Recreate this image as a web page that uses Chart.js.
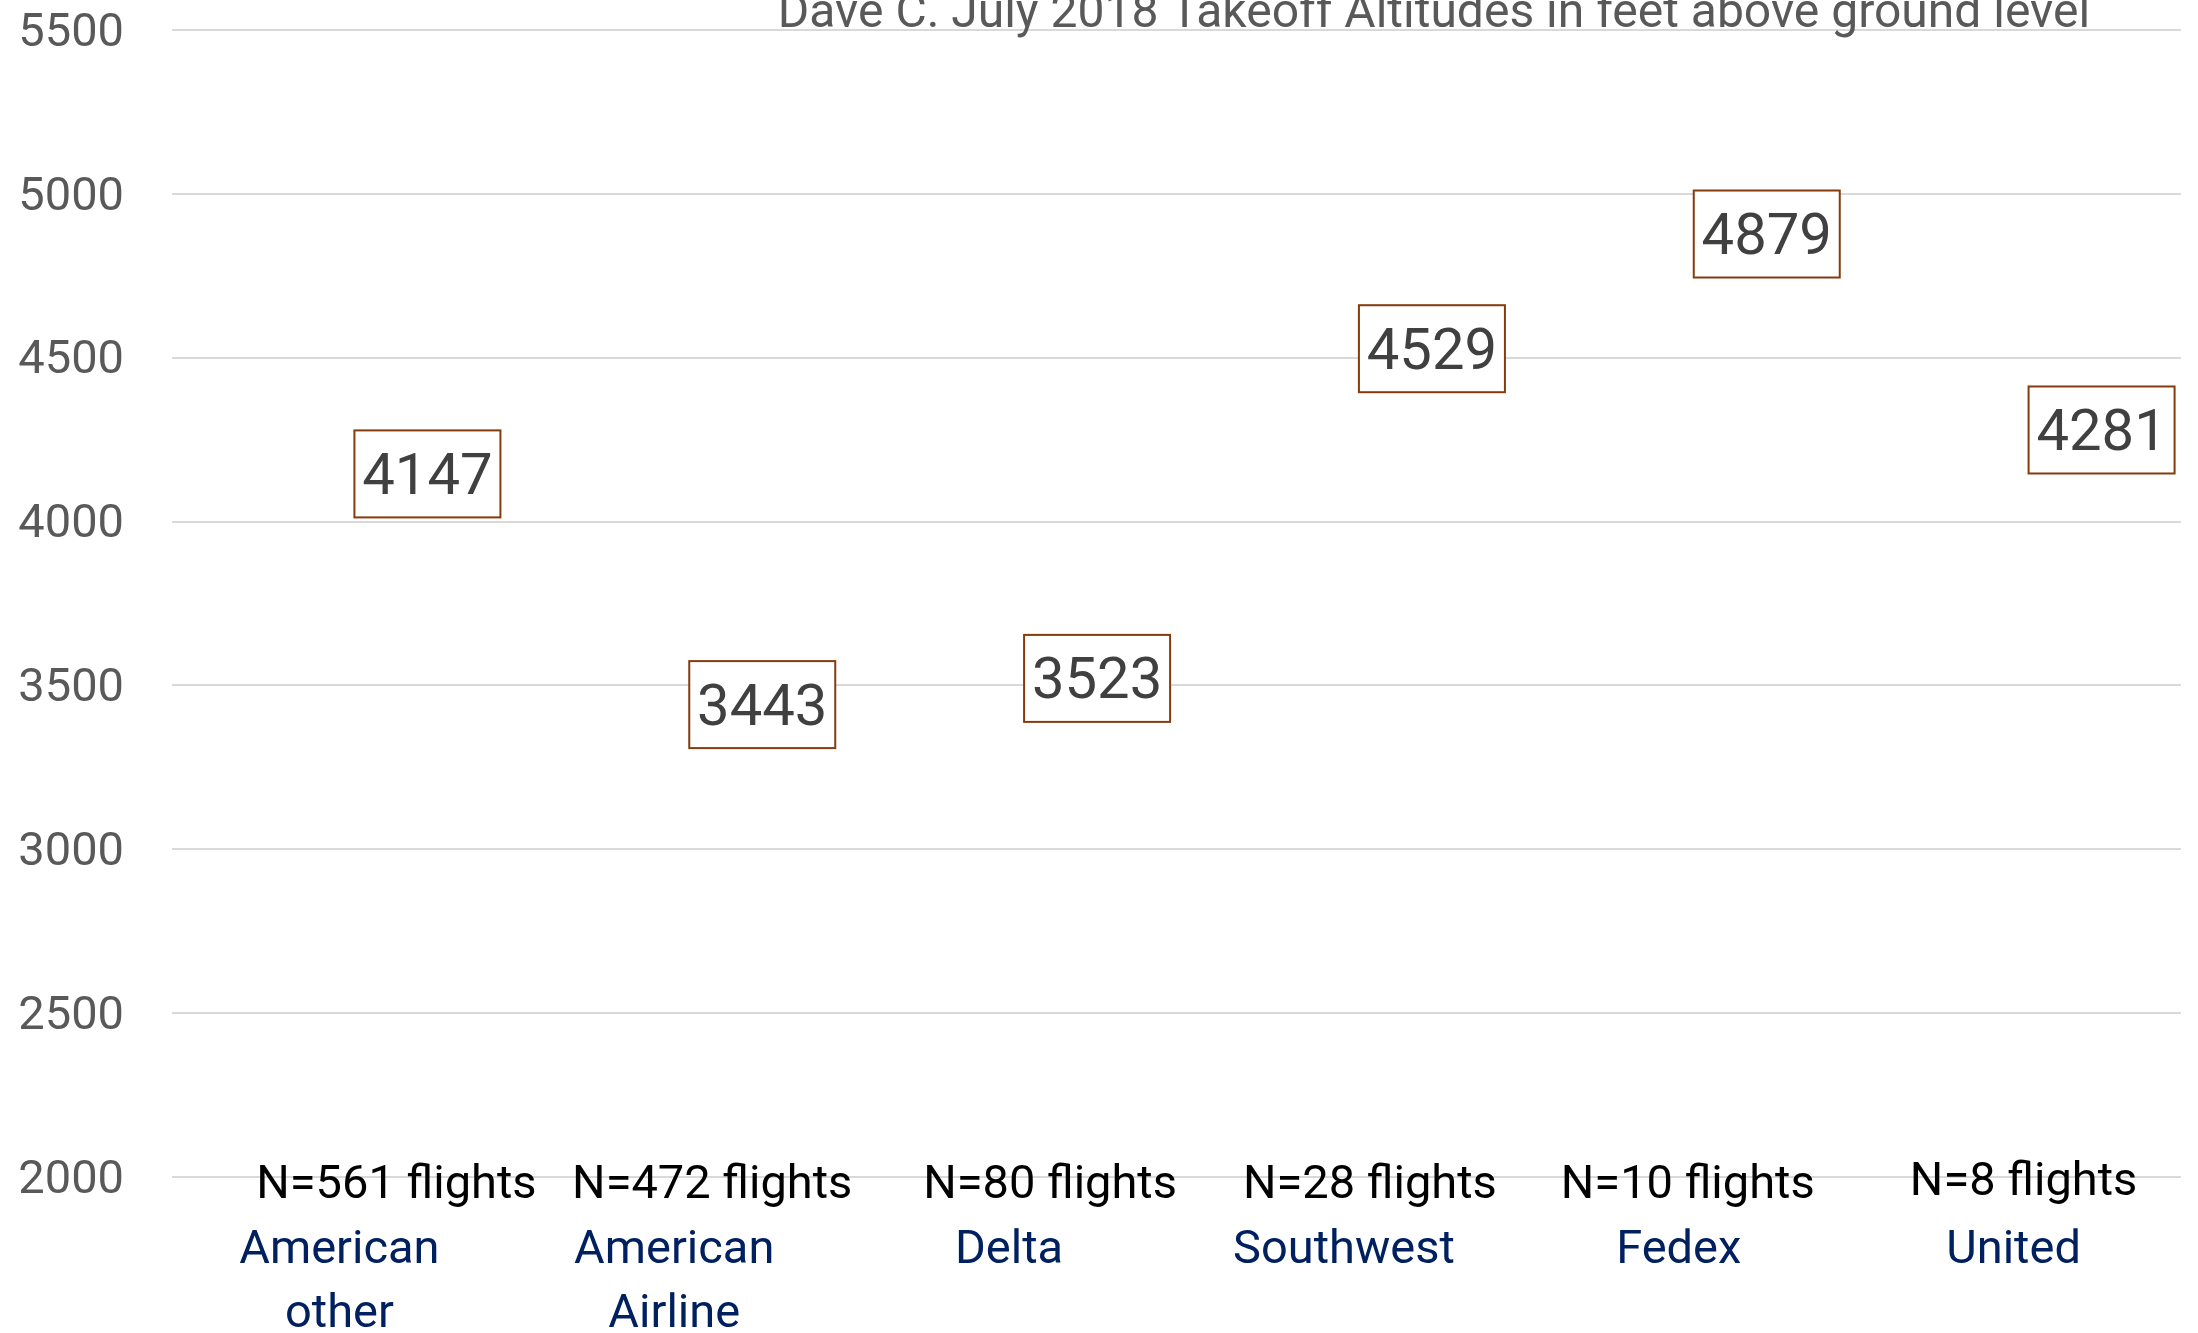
<!DOCTYPE html>
<html>
<head>
<meta charset="utf-8">
<style>
  body { margin: 0; background: #fff; }
  canvas { display: block; }
</style>
<script src="https://cdn.jsdelivr.net/npm/chart.js@4/dist/chart.umd.min.js"></script>
</head>
<body>
<canvas id="graph1" width="2198" height="1333"></canvas>
<script>
var airlines = [['American', 'other'], ['American', 'Airline'], 'Delta', 'Southwest', 'Fedex', 'United'];
var altitudes = [4147, 3443, 3523, 4529, 4879, 4281];
var flightCounts = ['N=561 flights', 'N=472 flights', 'N=80 flights', 'N=28 flights', 'N=10 flights', 'N=8 flights'];
var yTicks = [2000, 2500, 3000, 3500, 4000, 4500, 5000, 5500];

// nudges of the N= text boxes from the category centre (they were hand placed)
var countNudge = [[57, 0], [38, 0], [41, 0], [26, 0], [9, 0], [10, -3]];

var FONT = 'Roboto, "Open Sans", sans-serif';

var labelPlugin = {
  id: 'labels',
  afterDatasetsDraw: function (chart) {
    var ctx = chart.ctx;
    var meta = chart.getDatasetMeta(0);
    var xs = chart.scales.x;
    ctx.save();

    // value boxes, sitting to the right of each category centre
    ctx.font = '58px ' + FONT;
    ctx.textAlign = 'center';
    ctx.textBaseline = 'middle';
    meta.data.forEach(function (pt, i) {
      var cx = pt.x + 88;
      var cy = pt.y;
      ctx.fillStyle = '#ffffff';
      ctx.fillRect(cx - 73, cy - 43, 146, 87);
      ctx.strokeStyle = '#843C0C';
      ctx.lineWidth = 2;
      ctx.strokeRect(cx - 73, cy - 43, 146, 87);
      ctx.fillStyle = '#404040';
      ctx.fillText(String(altitudes[i]), cx, cy + 6);
    });

    // flight counts
    ctx.font = '47px ' + FONT;
    ctx.fillStyle = '#000000';
    ctx.textBaseline = 'alphabetic';
    flightCounts.forEach(function (t, i) {
      var x = xs.getPixelForValue(i) + countNudge[i][0];
      ctx.fillText(t, x, 1198 + countNudge[i][1]);
    });

    // title, partly cut by the top edge like the original
    ctx.font = '48px ' + FONT;
    ctx.fillStyle = '#595959';
    ctx.fillText('Dave C. July 2018 Takeoff Altitudes in feet above ground level', 1434, 27);
    ctx.restore();
  }
};

function makeChart() {
  var ctx = document.getElementById('graph1').getContext('2d');
  new Chart(ctx, {
    type: 'line',
    data: {
      labels: airlines,
      datasets: [{
        data: altitudes,
        showLine: false,
        pointRadius: 0,
        pointHoverRadius: 0
      }]
    },
    options: {
      responsive: false,
      animation: false,
      devicePixelRatio: 1,
      layout: { padding: { top: 30, right: 17, left: 0, bottom: 0 } },
      plugins: {
        legend: { display: false },
        tooltip: { enabled: false }
      },
      scales: {
        x: {
          offset: true,
          grid: { display: false },
          border: { display: false },
          ticks: {
            color: '#002060',
            font: { family: FONT, size: 47, lineHeight: 1.37 },
            padding: 34,
            maxRotation: 0,
            autoSkip: false
          },
          afterFit: function (s) {
            s.height = 156;
            s.paddingLeft = 0;
            s.paddingRight = 0;
          }
        },
        y: {
          min: 2000,
          max: 5500,
          afterBuildTicks: function (s) {
            s.ticks = yTicks.map(function (v) { return { value: v }; });
          },
          grid: { color: '#D9D9D9', lineWidth: 2, drawTicks: false },
          border: { display: false },
          ticks: {
            color: '#595959',
            font: { family: FONT, size: 47 },
            padding: 48,
            labelOffset: 4,
            callback: function (v) { return String(v); }
          },
          afterFit: function (s) {
            s.width = 172;
            s.paddingTop = 0;
            s.paddingBottom = 0;
          }
        }
      }
    },
    plugins: [labelPlugin]
  });
}

makeChart();
</script>
</body>
</html>
